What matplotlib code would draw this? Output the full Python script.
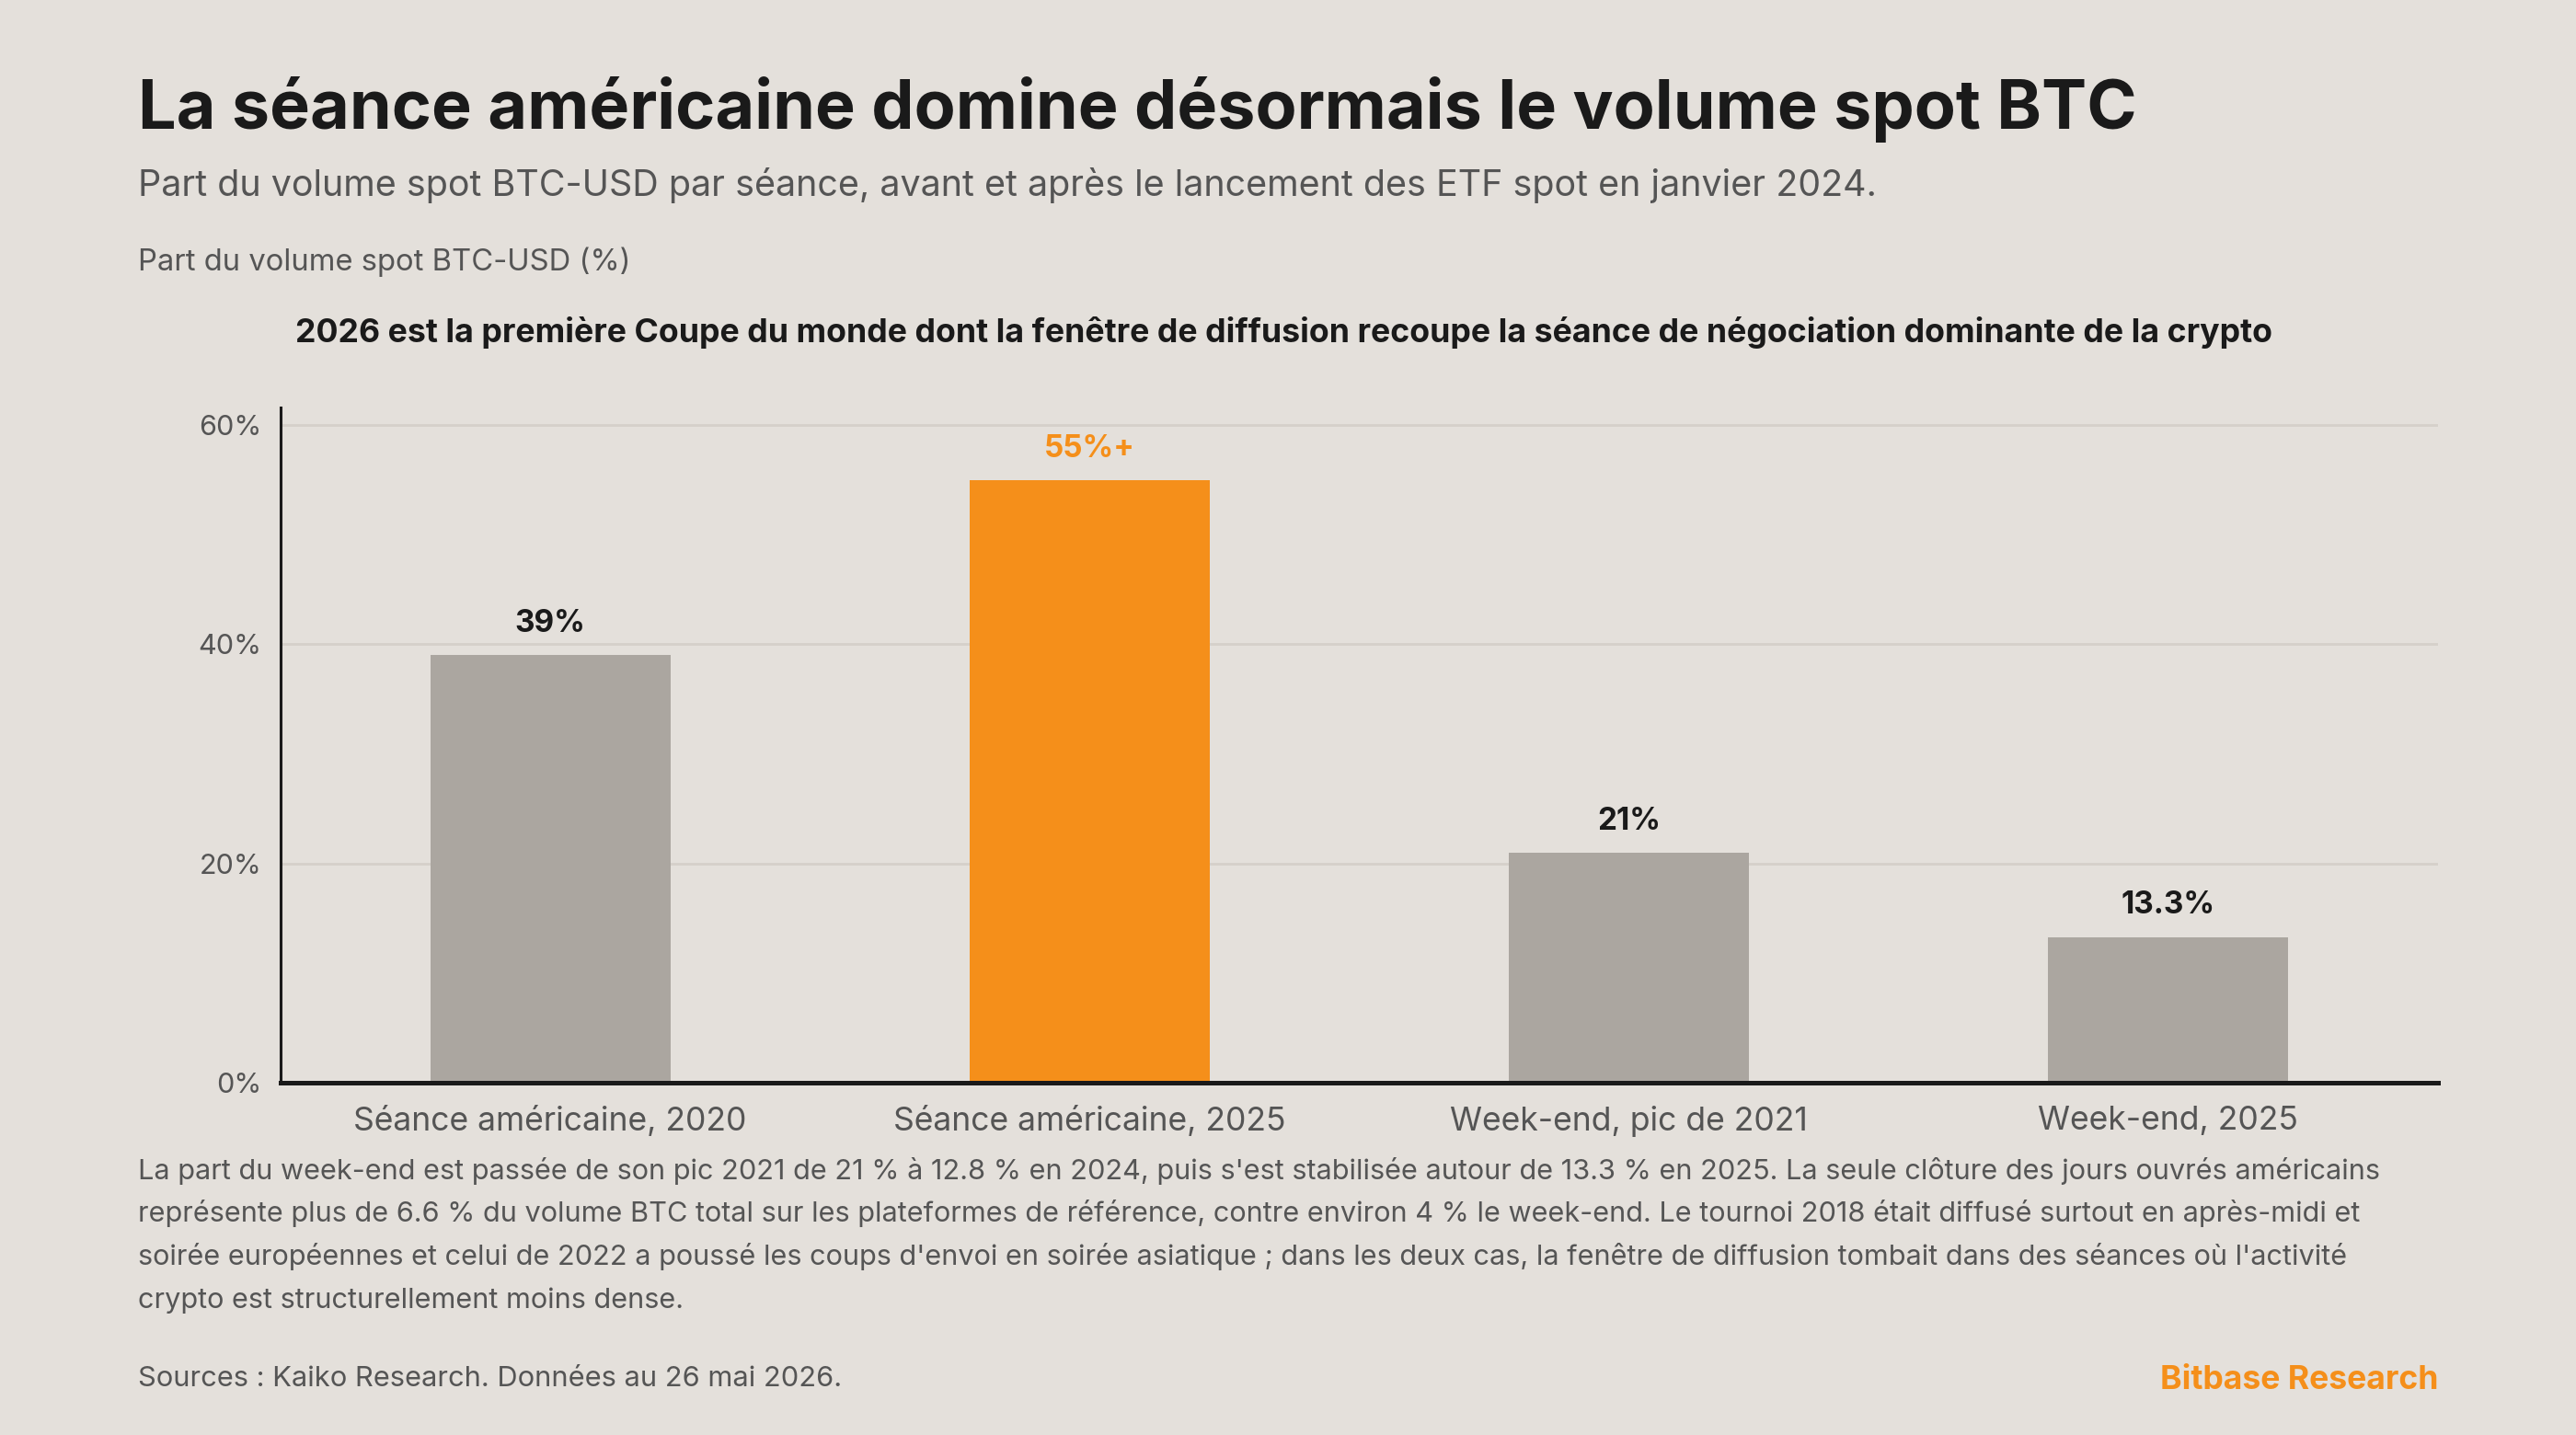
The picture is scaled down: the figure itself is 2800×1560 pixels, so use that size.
import matplotlib
matplotlib.use("Agg")
import matplotlib.pyplot as plt

plt.rcParams['font.family'] = ['Inter', 'DejaVu Sans']

categories = ["Séance américaine, 2020", "Séance américaine, 2025",
              "Week-end, pic de 2021", "Week-end, 2025"]
values = [39, 55, 21, 13.3]
value_labels = ["39%", "55%+", "21%", "13.3%"]
highlight = [False, True, False, False]
yticks = [0, 20, 40, 60]
ytick_labels = ["0%", "20%", "40%", "60%"]

BG = "#E4E0DB"
GREY = "#ABA6A0"
ORANGE = "#F58F1A"
DARK = "#1A1A1A"
MID = "#555555"
GRID = "#D5D0CA"

W, H = 2800, 1560
DPI = 200
fig = plt.figure(figsize=(W / DPI, H / DPI), dpi=DPI, facecolor=BG)

def fx(px):
    return px / W

def fy(px):
    return 1 - px / H

ax = fig.add_axes([fx(305), fy(1177), fx(2650) - fx(305), fy(443) - fy(1177)])
ax.set_facecolor(BG)

colors = [ORANGE if h else GREY for h in highlight]
x = list(range(len(categories)))
bars = ax.bar(x, values, width=0.445, color=colors, zorder=3)

ax.set_xlim(-0.5, len(categories) - 0.5)
ax.set_ylim(0, 61.6)
ax.set_yticks(yticks)
ax.set_yticklabels(ytick_labels)
ax.set_xticks(x)
ax.set_xticklabels(categories)
ax.tick_params(axis='y', length=0, pad=7.5, labelsize=11, labelcolor=MID)
ax.tick_params(axis='x', length=0, pad=9, labelsize=12.8, labelcolor=MID)
ax.yaxis.grid(True, color=GRID, linewidth=1.0, zorder=0)
ax.set_axisbelow(True)
for s in ['top', 'right']:
    ax.spines[s].set_visible(False)
ax.spines['left'].set_color(DARK)
ax.spines['left'].set_linewidth(1.1)
ax.spines['bottom'].set_color(DARK)
ax.spines['bottom'].set_linewidth(1.8)
ax.spines['bottom'].set_zorder(4)

for xi, v, lab, h in zip(x, values, value_labels, highlight):
    ax.annotate(lab, (xi, v), xytext=(0, 6.5), textcoords='offset points',
                ha='center', va='bottom', fontsize=12, fontweight='bold',
                color=ORANGE if h else DARK)

fig.text(fx(150), fy(140), "La séance américaine domine désormais le volume spot BTC",
         fontsize=26.5, fontweight='bold', color=DARK, va='baseline', ha='left')
fig.text(fx(150), fy(213),
         "Part du volume spot BTC-USD par séance, avant et après le lancement des ETF spot en janvier 2024.",
         fontsize=14.2, color=MID, va='baseline', ha='left')
fig.text(fx(150), fy(294), "Part du volume spot BTC-USD (%)",
         fontsize=11.8, color=MID, va='baseline', ha='left')
fig.text(0.4985, fy(372),
         "2026 est la première Coupe du monde dont la fenêtre de diffusion recoupe la séance de négociation dominante de la crypto",
         fontsize=12.85, fontweight='bold', color=DARK, va='baseline', ha='center')

foot_lines = [
    "La part du week-end est passée de son pic 2021 de 21 % à 12.8 % en 2024, puis s'est stabilisée autour de 13.3 % en 2025. La seule clôture des jours ouvrés américains",
    "représente plus de 6.6 % du volume BTC total sur les plateformes de référence, contre environ 4 % le week-end. Le tournoi 2018 était diffusé surtout en après-midi et",
    "soirée européennes et celui de 2022 a poussé les coups d'envoi en soirée asiatique ; dans les deux cas, la fenêtre de diffusion tombait dans des séances où l'activité",
    "crypto est structurellement moins dense.",
]
foot_y = [1282, 1328, 1375, 1422]
for line, yy in zip(foot_lines, foot_y):
    fig.text(fx(150), fy(yy), line, fontsize=11.05, color=MID, va='baseline', ha='left')

fig.text(fx(150), fy(1507), "Sources : Kaiko Research. Données au 26 mai 2026.",
         fontsize=11.1, color=MID, va='baseline', ha='left')
fig.text(fx(2650), fy(1510), "Bitbase Research",
         fontsize=12.8, fontweight='bold', color=ORANGE, va='baseline', ha='right')

fig.savefig("out.png", dpi=DPI, facecolor=BG)
